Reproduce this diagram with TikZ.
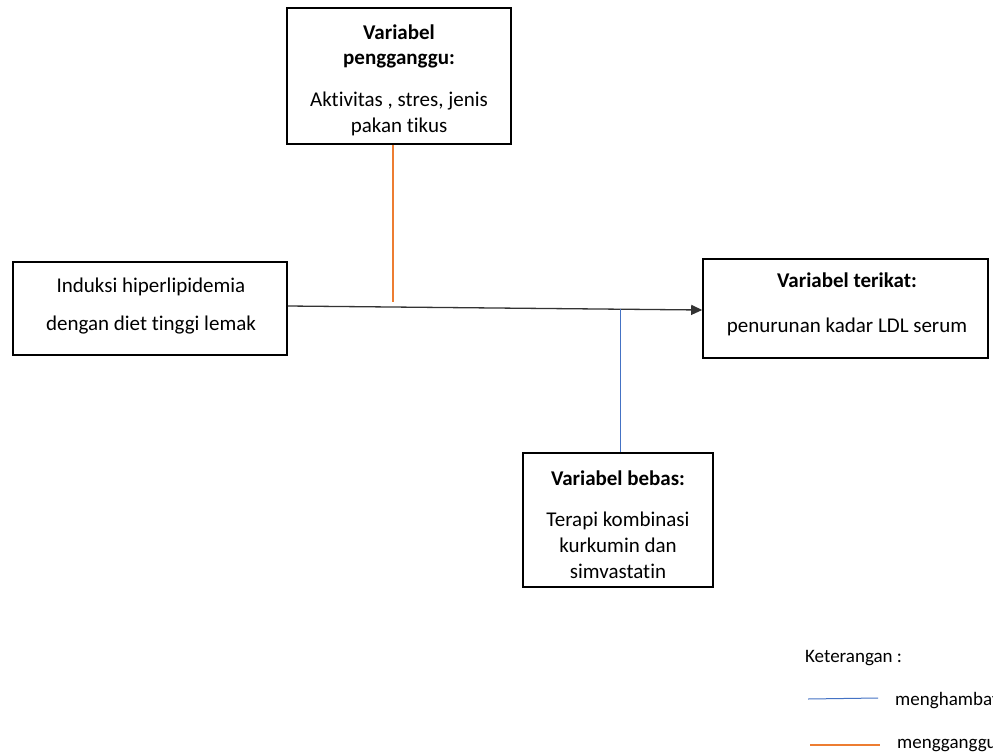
\documentclass[tikz,border=0pt]{standalone}
\usepackage{fontspec}
\setmainfont{Carlito}[Ligatures=CommonOff]
\usetikzlibrary{arrows.meta,calc}
\begin{document}
\begin{tikzpicture}[x=1pt,y=-1pt,
  varbox/.style={draw=black,line width=1.6pt,inner sep=0pt,rectangle},
  txt/.style={anchor=base,inner sep=0pt,font=\fontsize{21}{25}\selectfont},
  btxt/.style={txt,font=\fontsize{21}{25}\selectfont\bfseries},
  legtxt/.style={anchor=base west,inner sep=0pt,font=\fontsize{19}{23}\selectfont},
  mainarrow/.style={draw=black!80,line width=1.3pt,-{Triangle[length=11pt,width=10pt]}},
  blueline/.style={draw={rgb,255:red,68;green,114;blue,196},line width=1pt},
  orangeline/.style={draw={rgb,255:red,237;green,125;blue,49},line width=1.1pt}]
\useasboundingbox (0,0) rectangle (993,755);
\fill[white] (0,0) rectangle (993,755);

% boxes
\node[varbox,minimum width=224pt,minimum height=136pt] (tbox) at (399,76) {};
\node[varbox,minimum width=274pt,minimum height=93pt] (lbox) at (150,308.5) {};
\node[varbox,minimum width=285pt,minimum height=99pt] (rbox) at (845.5,308.5) {};
\node[varbox,minimum width=190pt,minimum height=134pt] (bbox) at (618,520) {};

% confounding variable
\node[btxt] (t1) at (399,39) {Variabel};
\node[btxt] (t2) at (399,64) {pengganggu:};
\node[txt] (t3) at (399,106) {Aktivitas , stres, jenis};
\node[txt] (t4) at (399,132) {pakan tikus};

% induction
\node[txt] (l1) at (151,292) {Induksi hiperlipidemia};
\node[txt] (l2) at (151,330) {dengan diet tinggi lemak};

% dependent variable
\node[btxt] (r1) at (847,287) {Variabel terikat:};
\node[txt] (r2) at (847,332) {penurunan kadar LDL serum};

% independent variable
\node[btxt] (b1) at (618,485) {Variabel bebas:};
\node[txt] (b2) at (618,526) {Terapi kombinasi};
\node[txt] (b3) at (618,552) {kurkumin dan};
\node[txt] (b4) at (618,578) {simvastatin};

% connectors
\draw[mainarrow] ($(lbox.east)+(0,-2.5)$) -- ($(rbox.west)+(0,1.5)$);
\coordinate (oend) at (393,302);
\draw[orangeline] (tbox.south -| oend) -- (oend);
\coordinate (bstart) at (620,308.5);
\draw[blueline] (bstart) -- (bbox.north -| bstart);

% legend
\node[legtxt] (k) at (805,662) {Keterangan :};
\coordinate (lb1) at (808,699);
\coordinate (lb2) at (878,698);
\draw[blueline] (lb1) -- (lb2);
\node[legtxt] (k1) at (895,705) {menghambat};
\coordinate (lo1) at (810,745);
\coordinate (lo2) at (880,745);
\draw[orangeline] (lo1) -- (lo2);
\node[legtxt] (k2) at (897,748) {mengganggu};
\end{tikzpicture}
\end{document}
